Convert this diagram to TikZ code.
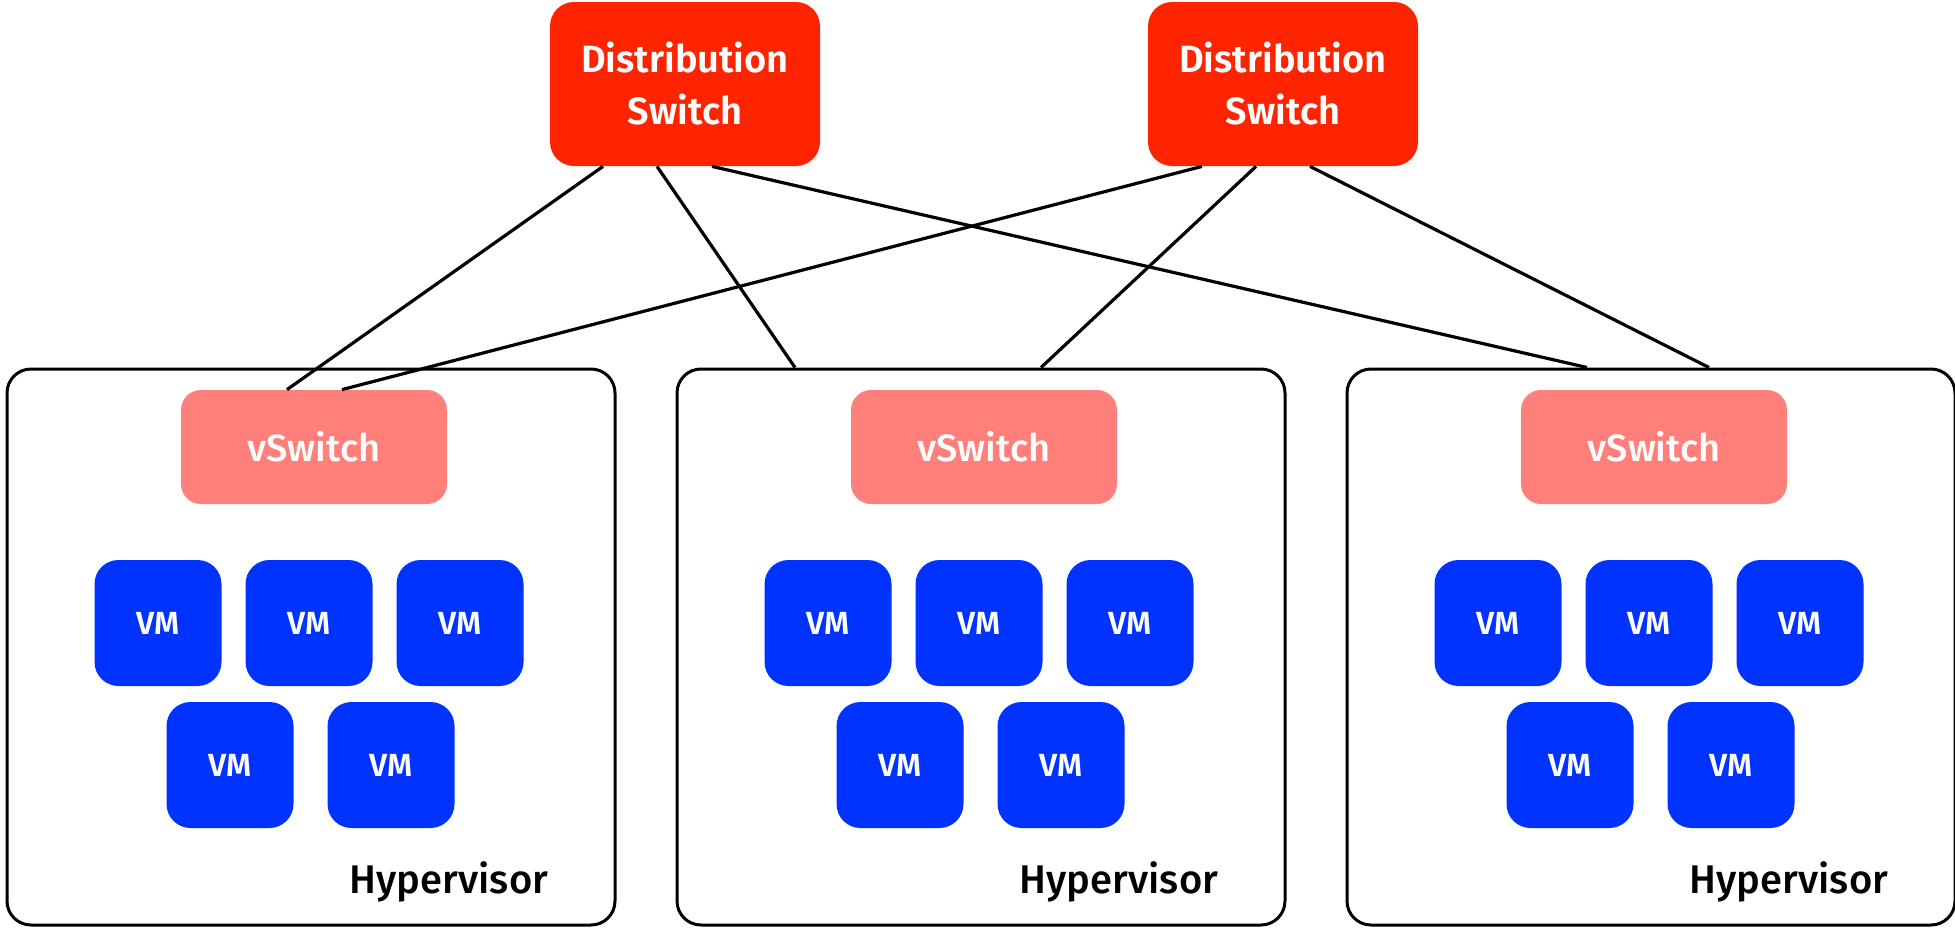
\documentclass[tikz,border=0pt]{standalone}
\usepackage{fontspec}
\setmainfont{Fira Sans}
\newfontfamily\semibold{Fira Sans SemiBold}
\newfontfamily\medium{Fira Sans Medium}
\usepackage{tikz}
\usetikzlibrary{positioning}
\definecolor{dsred}{RGB}{255,36,0}
\definecolor{vsred}{RGB}{255,128,122}
\definecolor{vmblue}{RGB}{0,51,255}

\begin{document}
\begin{tikzpicture}[
    x=0.5pt, y=-0.5pt,
    dswitch/.style={rectangle, rounded corners=12pt, fill=dsred, text=white, align=center, minimum width=135pt, minimum height=82pt, font=\fontsize{19}{26}\selectfont\semibold},
    vswitch/.style={rectangle, rounded corners=10pt, fill=vsred, text=white, minimum width=133pt, minimum height=57pt, font=\fontsize{19}{23}\selectfont\medium},
    vm/.style={rectangle, rounded corners=12pt, fill=vmblue, text=white, minimum width=63.5pt, minimum height=63pt, font=\fontsize{16}{18}\selectfont\semibold},
    hyper/.style={rectangle, draw, line width=1.5pt, rounded corners=12pt, minimum width=304pt, minimum height=278pt},
    hlabel/.style={anchor=base, font=\fontsize{20}{24}\selectfont\medium},
    link/.style={line width=1.6pt}
]
\useasboundingbox (0,0) rectangle (1955,928);

% HYPERVISORES
\node[hyper] (hv1) at (311,647) {};
\node[hyper] (hv2) at (981,647) {};
\node[hyper] (hv3) at (1651,647) {};

% SWITCHES DE DISTRIBUCION
\node[dswitch] (ds1) at (685,84) {Distribution\\Switch};
\node[dswitch] (ds2) at (1283,84) {Distribution\\Switch};

% VSWITCHES
\node[vswitch] (vs1) at (314,447) {vSwitch};
\node[vswitch] (vs2) at (984,447) {vSwitch};
\node[vswitch] (vs3) at (1654,447) {vSwitch};

% VMS HIPERVISOR 1
\node[vm] (vm11) at (158,623) {VM};
\node[vm] (vm12) at (309,623) {VM};
\node[vm] (vm13) at (460,623) {VM};
\node[vm] (vm14) at (230,765) {VM};
\node[vm] (vm15) at (391,765) {VM};

% VMS HIPERVISOR 2
\node[vm] (vm21) at (828,623) {VM};
\node[vm] (vm22) at (979,623) {VM};
\node[vm] (vm23) at (1130,623) {VM};
\node[vm] (vm24) at (900,765) {VM};
\node[vm] (vm25) at (1061,765) {VM};

% VMS HIPERVISOR 3
\node[vm] (vm31) at (1498,623) {VM};
\node[vm] (vm32) at (1649,623) {VM};
\node[vm] (vm33) at (1800,623) {VM};
\node[vm] (vm34) at (1570,765) {VM};
\node[vm] (vm35) at (1731,765) {VM};

% ETIQUETAS
\node[hlabel] (hl1) at (449,893) {Hypervisor};
\node[hlabel] (hl2) at (1119,893) {Hypervisor};
\node[hlabel] (hl3) at (1789,893) {Hypervisor};

% Conexiones
\draw[link] ([xshift=-41pt]ds1.south) -- ([xshift=-13.5pt]vs1.north);
\draw[link] ([xshift=-14pt]ds1.south) -- ([xshift=-93pt]hv2.north);
\draw[link] ([xshift=13.5pt]ds1.south) -- ([xshift=-32pt]hv3.north);
\draw[link] ([xshift=-40.5pt]ds2.south) -- ([xshift=14pt]vs1.north);
\draw[link] ([xshift=-13.5pt]ds2.south) -- ([xshift=30pt]hv2.north);
\draw[link] ([xshift=13.5pt]ds2.south) -- ([xshift=29pt]hv3.north);

\end{tikzpicture}
\end{document}
